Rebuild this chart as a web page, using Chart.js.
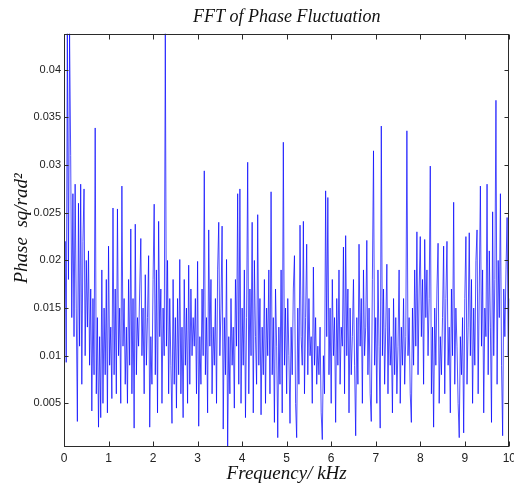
<!DOCTYPE html>
<html><head><meta charset="utf-8">
<script src="https://cdn.jsdelivr.net/npm/chart.js@4"></script>
<style>
html,body{margin:0;padding:0;background:#fff;overflow:hidden;width:514px;height:485px}
#wrap{width:520px;height:485px}
</style></head>
<body><div id="wrap"><canvas id="c" width="520" height="485"></canvas></div>
<script>
// Frequency step between FFT bins (kHz)
const freqStepKHz = 0.025;
// FFT magnitude of phase fluctuation (rad^2)
const phasePower = [
.016,.022,.0093,.0438,.018,.0438,.031,.014,.027,.012,.028,.015,.0031,.026,.011,.028,.007,.022,.0275,.010,
.020,.013,.021,.009,.017,.0042,.016,.008,.0339,.006,.014,.0025,.012,.0035,.019,.005,.015,.008,.018,.004,
.0215,.009,.013,.0055,.0255,.008,.017,.006,.0254,.010,.015,.005,.0278,.011,.016,.007,.013,.005,.018,.009,
.0233,.006,.016,.0024,.0238,.008,.014,.011,.017,.0223,.010,.015,.006,.0185,.009,.014,.0205,.0025,.012,.007,
.018,.0259,.008,.019,.004,.0241,.012,.017,.005,.015,.010,.0438,.011,.020,.006,.016,.009,.0029,.018,.007,
.014,.0045,.016,.008,.0201,.006,.013,.0035,.018,.009,.015,.005,.0195,.007,.017,.010,.014,.011,.016,.006,
.0199,.0026,.012,.007,.017,.010,.0294,.008,.014,.004,.0232,.011,.018,.006,.013,.009,.016,.005,.019,.024,
.010,.015,.0236,.0023,.014,.008,.0201,.00042,.012,.006,.016,.009,.013,.0045,.018,.011,.027,.007,.0275,.005,
.015,.009,.019,.0035,.014,.0303,.006,.017,.010,.024,.004,.020,.012,.007,.0248,.009,.016,.0038,.013,.008,
.018,.005,.015,.010,.019,.006,.0272,.008,.014,.003,.017,.011,.0014,.013,.007,.019,.004,.0324,.009,.015,
.006,.016,.010,.0029,.013,.008,.017,.0205,.005,.0014,.015,.007,.0237,.012,.009,.0241,.006,.014,.0217,.008,
.016,.010,.012,.005,.0193,.009,.014,.007,.011,.008,.013,.004,.0012,.010,.006,.0273,.012,.0266,.008,.015,
.005,.018,.010,.014,.003,.016,.009,.019,.007,.013,.011,.0214,.006,.0226,.010,.017,.004,.015,.008,.012,
.018,.009,.0016,.014,.007,.0217,.011,.016,.005,.019,.010,.013,.0221,.008,.015,.006,.0031,.018,.0315,.009,
.014,.005,.019,.011,.0024,.0341,.010,.017,.007,.013,.0196,.006,.015,.009,.012,.004,.016,.008,.014,.006,
.011,.019,.005,.013,.009,.016,.007,.012,.0336,.010,.014,.006,.003,.015,.009,.019,.011,.023,.008,.017,
.0225,.012,.018,.007,.0222,.014,.019,.010,.016,.0299,.006,.013,.0025,.015,.009,.017,.0218,.005,.012,.008,
.014,.0215,.006,.016,.022,.009,.013,.004,.017,.010,.0261,.007,.015,.011,.005,.0014,.012,.008,.014,.0019,
.016,.0225,.007,.013,.0229,.010,.018,.005,.015,.009,.020,.0232,.006,.017,.0278,.011,.019,.004,.015,.012,
.028,.008,.021,.013,.003,.0251,.010,.018,.0368,.007,.020,.014,.027,.009,.0016,.017,.012,.019,.0245,.010,.016
];
const xTickValues = [0,1,2,3,4,5,6,7,8,9,10];
const yTickValues = [0.005,0.01,0.015,0.02,0.025,0.03,0.035,0.04];
const xLimits = [0, 10];
const yLimits = [0.00042, 0.0438];

const points = phasePower.map((v,i)=>({x: +(i*freqStepKHz).toFixed(3), y: v}));

const boxTicks = {
  id:'boxTicks',
  afterDatasetsDraw(chart){
    const {ctx, chartArea:a, scales:{x,y}} = chart;
    ctx.save();
    ctx.strokeStyle='#2b2b2b'; ctx.lineWidth=1;
    const L=Math.round(a.left)+0.5, R=Math.round(a.right)-0.5, T=Math.round(a.top)+0.5, B=Math.round(a.bottom)-0.5;
    ctx.beginPath();
    x.ticks.forEach(t=>{const px=Math.round(x.getPixelForValue(t.value))+0.5; ctx.moveTo(px,B); ctx.lineTo(px,B-5); ctx.moveTo(px,T); ctx.lineTo(px,T+5);});
    y.ticks.forEach(t=>{const py=Math.round(y.getPixelForValue(t.value))+0.5; ctx.moveTo(L,py); ctx.lineTo(L+4,py); ctx.moveTo(R,py); ctx.lineTo(R-4,py);});
    ctx.stroke();
    ctx.strokeRect(L, T, R-L, B-T);
    ctx.restore();
  }
};

new Chart(document.getElementById('c'), {
  type:'line',
  data:{datasets:[{data:points, borderColor:'rgba(0,0,255,0.78)', borderWidth:0.9, pointRadius:0, tension:0, fill:false}]},
  options:{
    responsive:false, animation:false, devicePixelRatio:1,
    layout:{padding:{left:0,right:8,top:0,bottom:0}},
    plugins:{
      legend:{display:false}, tooltip:{enabled:false},
      title:{display:true, text:'FFT of Phase Fluctuation', fullSize:false, color:'#111',
        font:{family:'"Liberation Serif"', style:'italic', size:18, weight:'normal', lineHeight:1.2},
        padding:{top:6,bottom:6}}
    },
    scales:{
      x:{type:'linear', min:xLimits[0], max:xLimits[1],
        grid:{display:false, drawTicks:false}, border:{display:false},
        afterBuildTicks:s=>{s.ticks = xTickValues.map(v=>({value:v}));},
        afterFit:s=>{s.height = 38;},
        ticks:{padding:4, color:'#222', font:{family:'"Liberation Sans"', size:12}, maxRotation:0, callback:v=>String(v)},
        title:{display:true, text:'Frequency/ kHz', color:'#111', padding:{top:1,bottom:0},
          font:{family:'"Liberation Serif"', style:'italic', size:19, weight:'normal', lineHeight:1.2}}
      },
      y:{type:'linear', min:yLimits[0], max:yLimits[1],
        grid:{display:false, drawTicks:false}, border:{display:false},
        afterBuildTicks:s=>{s.ticks = yTickValues.map(v=>({value:v}));},
        afterFit:s=>{s.width = 64;},
        ticks:{padding:3, color:'#222', font:{family:'"Liberation Sans"', size:11}, callback:v=>String(v)},
        title:{display:true, text:'     Phase  sq/rad²', color:'#111', padding:{top:11,bottom:0},
          font:{family:'"Liberation Serif"', style:'italic', size:19, weight:'normal', lineHeight:1.2}}
      }
    }
  },
  plugins:[boxTicks]
});
</script>
</body></html>
